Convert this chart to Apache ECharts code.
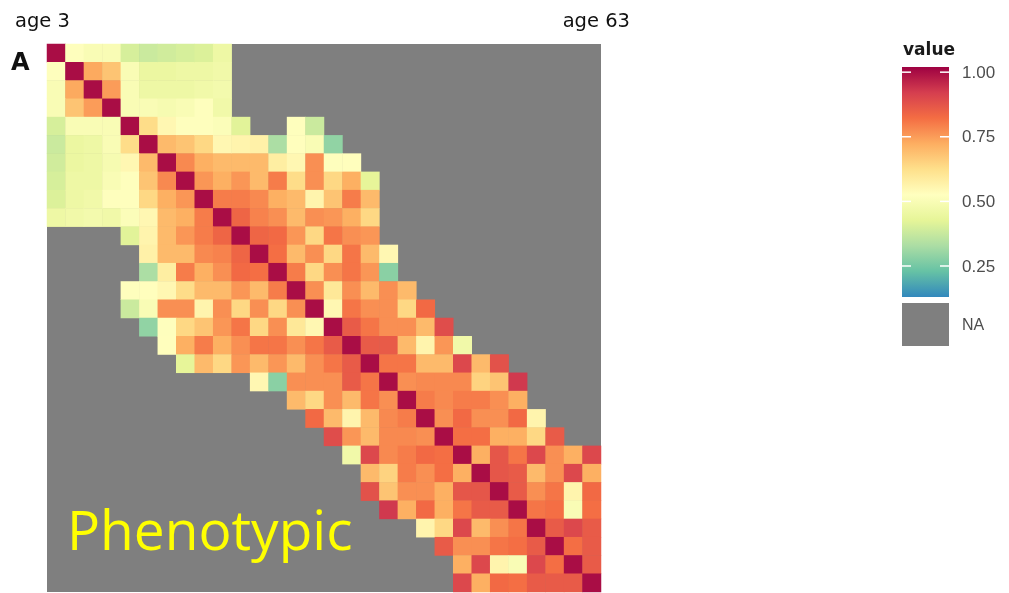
<!DOCTYPE html>
<html>
<head>
<meta charset="utf-8">
<script src="https://cdn.jsdelivr.net/npm/echarts@6/dist/echarts.min.js"></script>
<style>
html, body { margin: 0; padding: 0; background: #fff; }
#chart { width: 1009px; height: 593px; }
</style>
</head>
<body>
<div id="chart"></div>
<script>
// measurement occasions (30), first = age 3, last = age 63
var occasions = ['1','2','3','4','5','6','7','8','9','10','11','12','13','14','15',
	'16','17','18','19','20','21','22','23','24','25','26','27','28','29','30'];

// first non-NA column of each row (lower triangle), matrix is symmetric
var rowStart = [0,0,0,0,0,0,0,0,0,0, 4,5,5,4,4,5,6,7,11,13, 14,15,16,17,17,18,20,21,22,22];

// lower triangle values, from rowStart[r] up to the diagonal
var lowerRows = [
	[1],
	[0.52, 1],
	[0.50, 0.73, 1],
	[0.50, 0.68, 0.75, 1],
	[0.40, 0.50, 0.50, 0.50, 1],
	[0.38, 0.45, 0.46, 0.50, 0.63, 1],
	[0.39, 0.45, 0.46, 0.49, 0.55, 0.70, 1],
	[0.40, 0.46, 0.46, 0.50, 0.52, 0.68, 0.78, 1],
	[0.41, 0.46, 0.47, 0.52, 0.52, 0.64, 0.72, 0.76, 1],
	[0.46, 0.47, 0.48, 0.47, 0.51, 0.55, 0.70, 0.72, 0.80, 1],
	[0.42, 0.56, 0.70, 0.76, 0.80, 0.84, 1],
	[0.57, 0.70, 0.70, 0.78, 0.79, 0.84, 1],
	[0.33, 0.58, 0.80, 0.72, 0.77, 0.83, 0.82, 1],
	[0.52, 0.53, 0.55, 0.63, 0.70, 0.70, 0.76, 0.70, 0.80, 1],
	[0.38, 0.50, 0.77, 0.77, 0.56, 0.77, 0.64, 0.77, 0.64, 0.77, 1],
	[0.29, 0.52, 0.64, 0.68, 0.76, 0.81, 0.64, 0.77, 0.60, 0.55, 1],
	[0.53, 0.72, 0.80, 0.72, 0.77, 0.81, 0.81, 0.77, 0.81, 0.86, 1],
	[0.43, 0.70, 0.64, 0.76, 0.70, 0.76, 0.70, 0.77, 0.81, 0.86, 1],
	[0.55, 0.28, 0.77, 0.77, 0.77, 0.86, 0.81, 1],
	[0.70, 0.64, 0.77, 0.70, 0.81, 0.77, 1],
	[0.83, 0.70, 0.56, 0.70, 0.78, 0.80, 1],
	[0.89, 0.76, 0.70, 0.78, 0.78, 0.77, 1],
	[0.47, 0.90, 0.78, 0.80, 0.83, 0.82, 1],
	[0.70, 0.65, 0.80, 0.77, 0.82, 0.72, 1],
	[0.88, 0.68, 0.77, 0.77, 0.72, 0.87, 0.87, 1],
	[0.93, 0.72, 0.83, 0.72, 0.81, 0.86, 0.86, 1],
	[0.56, 0.64, 0.90, 0.70, 0.77, 0.81, 1],
	[0.86, 0.77, 0.77, 0.81, 0.82, 0.86, 1],
	[0.72, 0.90, 0.56, 0.50, 0.90, 0.82, 1],
	[0.90, 0.72, 0.83, 0.82, 0.86, 0.86, 0.86, 1]
];

var legendTicks = [1.00, 0.75, 0.50, 0.25];
var scaleMin = 0.13, scaleMax = 1.02;
var spectral = ['#3288BD', '#66C2A5', '#ABDDA4', '#E6F598', '#FFFFBF',
	'#FEE08B', '#FDAE61', '#F46D43', '#D53E4F', '#9E0142'];

var cells = [];
lowerRows.forEach(function (vals, r) {
	vals.forEach(function (v, k) {
		var c = rowStart[r] + k;
		cells.push([c, r, v]);
		if (c !== r) cells.push([r, c, v]);
	});
});

var myChart = echarts.init(document.getElementById('chart'));

// colour bar legend
var barX = 902, barY = 67, barW = 47, barH = 230;
function barPos(v) { return barY + (scaleMax - v) / (scaleMax - scaleMin) * barH; }
var stops = spectral.map(function (col, i) {
	return { offset: i / (spectral.length - 1), color: spectral[spectral.length - 1 - i] };
});
var legendEls = [
	{ type: 'text', x: barX + 1, y: 51, style: { text: 'value', font: 'bold 17px "DejaVu Sans"', fill: '#1a1a1a', verticalAlign: 'middle' } },
	{ type: 'rect', shape: { x: barX, y: barY, width: barW, height: barH },
		style: { fill: new echarts.graphic.LinearGradient(0, 0, 0, 1, stops) } },
	{ type: 'rect', shape: { x: barX, y: 303, width: barW, height: 43 }, style: { fill: '#7F7F7F' } },
	{ type: 'text', x: 962, y: 326, style: { text: 'NA', font: '16px "Liberation Sans"', fill: '#4d4d4d', verticalAlign: 'middle' } }
];
legendTicks.forEach(function (t) {
	var y = barPos(t);
	legendEls.push({ type: 'line', shape: { x1: barX, y1: y, x2: barX + 9, y2: y }, style: { stroke: '#fff', lineWidth: 1.5 } });
	legendEls.push({ type: 'line', shape: { x1: barX + barW - 9, y1: y, x2: barX + barW, y2: y }, style: { stroke: '#fff', lineWidth: 1.5 } });
	legendEls.push({ type: 'text', x: 962, y: y + 1, style: { text: t.toFixed(2), font: '17px "Liberation Sans"', fill: '#4d4d4d', verticalAlign: 'middle' } });
});

var option = {
	animation: false,
	grid: {
		left: 47,
		top: 44,
		width: 554,
		height: 548,
		show: true,
		backgroundColor: '#7F7F7F',
		borderWidth: 0
	},
	xAxis: {
		type: 'category',
		data: occasions,
		show: false
	},
	yAxis: {
		type: 'category',
		data: occasions,
		inverse: true,
		show: false
	},
	visualMap: {
		show: false,
		type: 'continuous',
		dimension: 2,
		min: scaleMin,
		max: scaleMax,
		inRange: { color: spectral }
	},
	graphic: [
		{ type: 'text', x: 15, y: 21.5, style: { text: 'age 3', font: '19.5px "DejaVu Sans"', fill: '#111', verticalAlign: 'middle' } },
		{ type: 'text', x: 630, y: 21.5, style: { text: 'age 63', font: '19.5px "DejaVu Sans"', fill: '#111', align: 'right', verticalAlign: 'middle' } },
		{ type: 'text', x: 11, y: 63.5, style: { text: 'A', font: 'bold 24px "DejaVu Sans"', fill: '#111', verticalAlign: 'middle' } },
		{ type: 'text', x: 67, y: 534, z: 10, style: { text: 'Phenotypic', font: '55px "Open Sans"', fill: '#FFFF00', verticalAlign: 'middle' } }
	].concat(legendEls),
	series: [
		{
			type: 'heatmap',
			data: cells,
			itemStyle: { borderWidth: 0 },
			emphasis: { disabled: true }
		}
	]
};
myChart.setOption(option);
</script>
</body>
</html>
